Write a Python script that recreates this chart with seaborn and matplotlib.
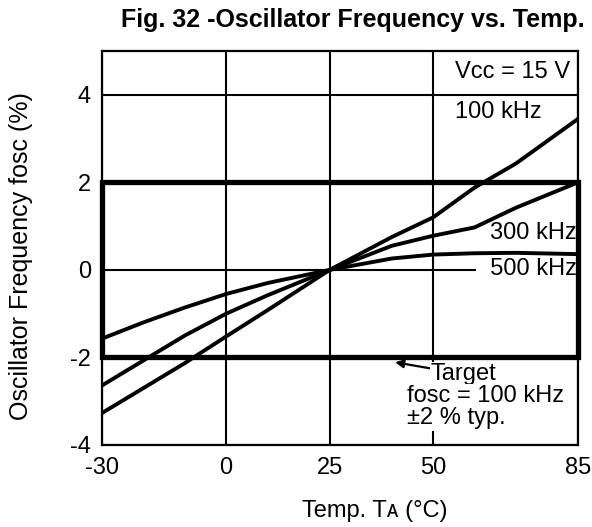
import pandas as pd
import matplotlib.pyplot as plt
import seaborn as sns
from matplotlib.patches import Rectangle

# values
temps = [-30, -20, -10, 0, 10, 25, 40, 50, 60, 70, 85]
f100 = [-3.27, -2.70, -2.13, -1.52, -0.92, 0.0, 0.75, 1.20, 1.88, 2.43, 3.45]
f300 = [-2.64, -2.07, -1.50, -1.00, -0.58, 0.0, 0.55, 0.78, 0.97, 1.42, 2.00]
f500 = [-1.57, -1.20, -0.86, -0.55, -0.30, 0.0, 0.26, 0.35, 0.38, 0.39, 0.36]
series = ['100 kHz', '300 kHz', '500 kHz']

x_ticks = [-30, 0, 25, 50, 85]
y_ticks = [-4, -2, 0, 2, 4]
y_top = 5
target = 2  # +/-2 % typ. band

df = pd.DataFrame({
    'temp': temps * 3,
    'freq': f100 + f300 + f500,
    'fosc': [s for s in series for _ in temps],
})

sns.set_theme(style='white')
plt.rcParams['font.family'] = ['Liberation Sans', 'DejaVu Sans']
plt.rcParams['axes.unicode_minus'] = False

fig = plt.figure(figsize=(5.92, 5.27), dpi=100)
ax = fig.add_axes([0.1723, 0.1556, 0.8041, 0.7476])

sns.lineplot(data=df, x='temp', y='freq', hue='fosc', palette=['black'] * 3,
             lw=2.8, legend=False, ax=ax, zorder=3)

ax.set_xlim(x_ticks[0], x_ticks[-1])
ax.set_ylim(y_ticks[0], y_top)
ax.set_xticks(x_ticks)
ax.set_yticks(y_ticks)
ax.grid(True, color='black', lw=1.5, zorder=1)
ax.set_axisbelow(True)
for s in ax.spines.values():
    s.set_color('black')
    s.set_linewidth(1.6)
ax.tick_params(axis='both', length=0, labelcolor='black', labelsize=17)
ax.tick_params(axis='x', pad=9)
ax.tick_params(axis='y', pad=8)

# target band
ax.add_patch(Rectangle((x_ticks[0], -target), x_ticks[-1] - x_ticks[0], 2 * target,
                       fill=False, ec='black', lw=3.8, zorder=4, clip_on=False))

ax.set_xlabel('Temp. Tᴀ (°C)', fontsize=17, color='black')
ax.xaxis.set_label_coords(0.574, -0.14)
ax.set_ylabel('Oscillator Frequency fosc (%)', fontsize=18, color='black')
ax.yaxis.set_label_coords(-0.145, 0.48)

fig.text(0.988, 0.962, 'Fig. 32 -Oscillator Frequency vs. Temp.', ha='right', va='center',
         fontsize=18, fontweight='bold', color='black')

bg = dict(fc='white', ec='none', pad=1)
ax.text(0.983, 0.947, 'Vcc = 15 V', transform=ax.transAxes, ha='right', va='center',
        fontsize=17, color='black')
ax.text(0.924, 0.845, '100 kHz', transform=ax.transAxes, ha='right', va='center',
        fontsize=17, color='black')
ax.text(0.998, 0.538, '300 kHz', transform=ax.transAxes, ha='right', va='center',
        fontsize=17, color='black', zorder=3.5)
ax.text(0.998, 0.447, '  500 kHz', transform=ax.transAxes, ha='right', va='center',
        fontsize=17, color='black', bbox=bg, zorder=3.5)

ax.annotate('Target', xy=(40.8, -2.11), xytext=(49.3, -2.38), ha='left', va='center',
            fontsize=17, color='black', bbox=dict(fc='white', ec='none', pad=0.5), zorder=5,
            arrowprops=dict(arrowstyle='-|>', color='black', lw=1.6, mutation_scale=12,
                            shrinkA=0, shrinkB=0))
ax.text(43.7, -3.14, 'fosc = 100 kHz\n±2 % typ.', ha='left', va='center', fontsize=17,
        color='black', linespacing=1.0, bbox=dict(fc='white', ec='none', pad=1), zorder=5)

fig.savefig('out.png', dpi=100)
